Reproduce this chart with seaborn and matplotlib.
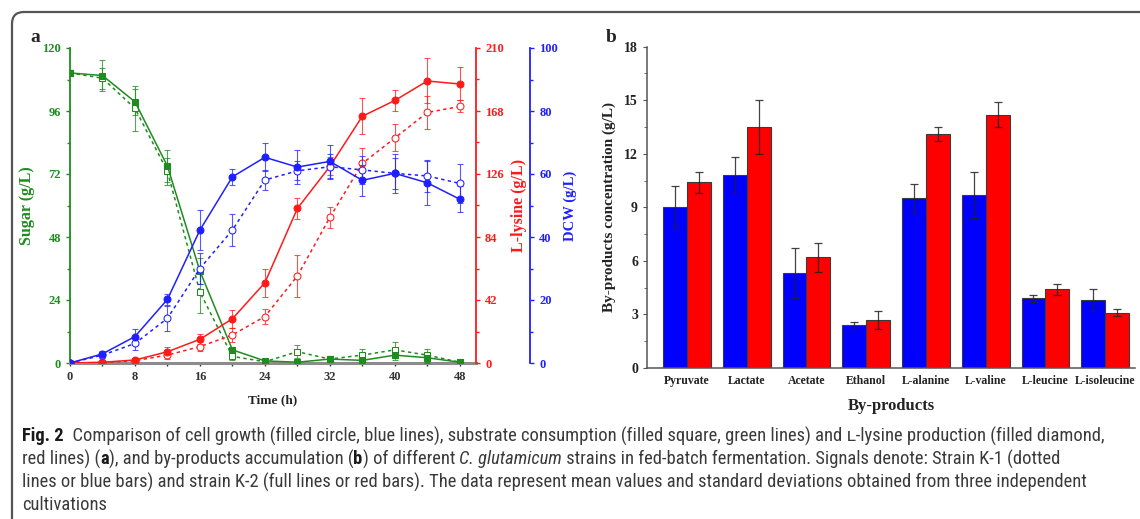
import matplotlib
matplotlib.use("Agg")
import matplotlib.pyplot as plt
import seaborn as sns
import numpy as np
import pandas as pd
from matplotlib.ticker import MultipleLocator, FixedLocator
from matplotlib.patches import FancyBboxPatch
from matplotlib.transforms import IdentityTransform
from matplotlib import font_manager

# ---------------- data: panel a ----------------
time_h = [0, 4, 8, 12, 16, 20, 24, 28, 32, 36, 40, 44, 48]
sugar_k2 = [110.5, 109.5, 99.5, 75.0, 35.0, 5.0, 0.8, 0.3, 1.5, 1.0, 3.0, 2.0, 0.3]
sugar_k1 = [110.5, 108.5, 97.0, 73.0, 27.0, 2.5, 0.5, 4.3, 1.5, 3.0, 5.0, 3.0, 0.3]
sugar_k2_err = [1, 6, 5, 6, 5, 1, 0.5, 0.5, 1, 1.5, 2, 2, 0.5]
sugar_k1_err = [1, 4, 8.5, 5, 8, 1.5, 0.5, 2.5, 1, 2.5, 3, 2.5, 0.5]

lys_k2 = [0, 0.5, 2.0, 7.5, 15.8, 29.5, 53.5, 103, 131, 164.5, 175, 188, 186]
lys_k1 = [0, 0.3, 1.5, 5.3, 10.9, 18.7, 31, 58, 97, 133, 150, 167, 171]
lys_k2_err = [0.3, 0.5, 1.5, 3.3, 3.3, 6, 9.4, 6.7, 6, 12, 7, 15, 11]
lys_k1_err = [0.3, 0.5, 1, 2.5, 3, 4.4, 5, 14, 7, 10, 9, 11, 4]

dcw_k2 = [0, 2.9, 8.4, 20.2, 42.2, 59.1, 65.3, 62.2, 64.0, 58.0, 60.2, 57.2, 52.0]
dcw_k1 = [0, 2.5, 6.2, 14.2, 30.0, 42.2, 58.1, 61.0, 62.3, 61.3, 60.2, 59.4, 57.0]
dcw_k2_err = [0.3, 1, 2.5, 1.8, 6.3, 2.6, 4.4, 5.3, 5.3, 5, 6.3, 6.9, 4.2]
dcw_k1_err = [0.3, 1, 2, 3.9, 4.8, 5, 3.2, 3, 4, 4.5, 5, 5, 6.3]

# ---------------- data: panel b ----------------
byproducts = ["Pyruvate", "Lactate", "Acetate", "Ethanol", "L-alanine",
              "L-valine", "L-leucine", "L-isoleucine"]
strains = ["K-1", "K-2"]
bp_k1 = [9.0, 10.8, 5.3, 2.4, 9.5, 9.7, 3.9, 3.8]
bp_k2 = [10.4, 13.5, 6.2, 2.7, 13.1, 14.2, 4.4, 3.1]
bp_k1_err = [1.2, 1.0, 1.4, 0.2, 0.8, 1.3, 0.2, 0.6]
bp_k2_err = [0.6, 1.5, 0.8, 0.5, 0.4, 0.7, 0.3, 0.2]

# ---------------- style ----------------
sns.set_style("ticks")
plt.rcParams["font.family"] = ["Liberation Serif", "DejaVu Serif"]
plt.rcParams["font.weight"] = "bold"
plt.rcParams["axes.labelweight"] = "bold"

GREEN = "#1e8c1e"
RED = "#ff1a1a"
BLUE = "#2020ff"
BLUE_BAR = "#0000ff"
RED_BAR = "#ff0000"

W, H = 1140, 519
fig = plt.figure(figsize=(W / 100, H / 100), dpi=100)


def fx(px):
    return px / W


def fy(py):
    return 1 - py / H


# ---------------- panel a ----------------
ax1 = fig.add_axes([fx(70), fy(363), fx(476 - 70), (363 - 48) / H])
ax2 = ax1.twinx()
ax3 = ax1.twinx()


def draw_series(ax, t, v, e, color, solid, marker):
    df = pd.DataFrame({"Time": t, "Value": v})
    if solid:
        sns.lineplot(data=df, x="Time", y="Value", ax=ax, color=color,
                     marker=marker, markersize=5, markeredgecolor=color,
                     markerfacecolor=color, linewidth=1.1, legend=False,
                     errorbar=None, zorder=4)
    else:
        sns.lineplot(data=df, x="Time", y="Value", ax=ax, color=color,
                     marker=marker, markersize=5, markeredgecolor=color,
                     markerfacecolor="white", linewidth=1.1, linestyle=(0, (2.2, 2.2)),
                     legend=False, errorbar=None, zorder=4)
    ax.errorbar(t, v, yerr=e, fmt="none", ecolor=color, elinewidth=0.8,
                capsize=2.5, capthick=0.8, alpha=0.75, zorder=3)


draw_series(ax1, time_h, sugar_k1, sugar_k1_err, GREEN, False, "s")
draw_series(ax1, time_h, sugar_k2, sugar_k2_err, GREEN, True, "s")
draw_series(ax2, time_h, lys_k1, lys_k1_err, RED, False, "o")
draw_series(ax2, time_h, lys_k2, lys_k2_err, RED, True, "o")
draw_series(ax3, time_h, dcw_k1, dcw_k1_err, BLUE, False, "o")
draw_series(ax3, time_h, dcw_k2, dcw_k2_err, BLUE, True, "o")

ax1.set_xlim(0, 50)
ax1.set_ylim(0, 120)
ax2.set_ylim(0, 210)
ax3.set_ylim(0, 100)
ax1.xaxis.set_major_locator(FixedLocator([0, 8, 16, 24, 32, 40, 48]))
ax1.xaxis.set_minor_locator(FixedLocator([4, 12, 20, 28, 36, 44]))
ax1.yaxis.set_major_locator(MultipleLocator(24))
ax1.yaxis.set_minor_locator(MultipleLocator(12))
ax2.yaxis.set_major_locator(MultipleLocator(42))
ax2.yaxis.set_minor_locator(MultipleLocator(21))
ax3.yaxis.set_major_locator(MultipleLocator(20))
ax3.yaxis.set_minor_locator(MultipleLocator(10))

for ax in (ax1, ax2, ax3):
    ax.spines["top"].set_visible(False)
    ax.set_xlabel("")
for ax in (ax2, ax3):
    ax.spines["left"].set_visible(False)
    ax.spines["bottom"].set_visible(False)

ax1.spines["right"].set_visible(False)
ax1.spines["left"].set_color(GREEN)
ax1.spines["left"].set_linewidth(1.3)
ax1.spines["bottom"].set_color("#8c8c8c")
ax1.spines["bottom"].set_linewidth(2.2)
ax2.spines["right"].set_color(RED)
ax2.spines["right"].set_linewidth(1.3)
ax3.spines["right"].set_color(BLUE)
ax3.spines["right"].set_linewidth(1.3)
ax3.spines["right"].set_position(("outward", 39))

tick_fs = 9
ax1.tick_params(axis="y", which="both", colors=GREEN, labelsize=tick_fs, length=3, width=1)
ax1.tick_params(axis="y", which="minor", length=2)
ax1.tick_params(axis="x", which="both", colors="#333333", labelsize=tick_fs, length=2.5, width=1)
ax2.tick_params(axis="y", which="both", colors=RED, labelsize=tick_fs, length=3, width=1)
ax2.tick_params(axis="y", which="minor", length=2)
ax3.tick_params(axis="y", which="both", colors=BLUE, labelsize=tick_fs, length=3, width=1)
ax3.tick_params(axis="y", which="minor", length=2)
for ax in (ax1, ax2, ax3):
    for lab in ax.get_yticklabels() + ax.get_xticklabels():
        lab.set_fontweight("bold")

ax1.set_xlabel("Time (h)", fontsize=9.5, fontweight="bold", color="#222222", labelpad=8)
ax1.set_ylabel("Sugar (g/L)", fontsize=11.5, fontweight="bold", color=GREEN, labelpad=5)
ax2.set_ylabel("L-lysine (g/L)", fontsize=11.5, fontweight="bold", color=RED, labelpad=5)
ax3.set_ylabel("DCW (g/L)", fontsize=10.5, fontweight="bold", color=BLUE, labelpad=4)

# ---------------- panel b ----------------
axb = fig.add_axes([fx(647), fy(368), fx(1135 - 647), (368 - 46.7) / H])
bdf = pd.DataFrame({
    "By-products": byproducts * 2,
    "Conc": bp_k1 + bp_k2,
    "Strain": [strains[0]] * len(byproducts) + [strains[1]] * len(byproducts),
})
sns.barplot(data=bdf, x="By-products", y="Conc", hue="Strain", order=byproducts,
            hue_order=strains, palette=[BLUE_BAR, RED_BAR], errorbar=None,
            edgecolor="#3a3a3a", linewidth=0.8, width=0.8, legend=False,
            saturation=1, ax=axb)
for cont, errs in zip(axb.containers, [bp_k1_err, bp_k2_err]):
    xs = [p.get_x() + p.get_width() / 2 for p in cont]
    ys = [p.get_height() for p in cont]
    axb.errorbar(xs, ys, yerr=errs, fmt="none", ecolor="#222222", elinewidth=0.9,
                 capsize=3, capthick=0.9, zorder=5, alpha=0.85)

axb.set_xlim(-0.67, 7.5)
axb.set_ylim(0, 18)
axb.yaxis.set_major_locator(MultipleLocator(3))
axb.yaxis.set_minor_locator(MultipleLocator(1.5))
axb.spines["top"].set_visible(False)
axb.spines["right"].set_visible(False)
for s in ("left", "bottom"):
    axb.spines[s].set_color("#555555")
    axb.spines[s].set_linewidth(1.1)
axb.tick_params(axis="y", which="both", labelsize=10, length=3, color="#555555", labelcolor="#222222")
axb.tick_params(axis="y", which="minor", length=2)
axb.tick_params(axis="x", labelsize=8.5, length=0, pad=5, labelcolor="#222222")
for lab in axb.get_yticklabels() + axb.get_xticklabels():
    lab.set_fontweight("bold")
axb.set_xlabel("By-products", fontsize=12, fontweight="bold", color="#222222", labelpad=8)
axb.set_ylabel("By-products concentration (g/L)", fontsize=11, fontweight="bold",
               color="#222222", labelpad=6)

# panel letters
fig.text(fx(30), fy(38), "a", fontsize=14, fontweight="bold", va="center", ha="left",
         family=["Liberation Serif"])
fig.text(fx(606), fy(38), "b", fontsize=14, fontweight="bold", va="center", ha="left",
         family=["Liberation Serif"])

# frame
frame = FancyBboxPatch((12, -30), 1200, H - 12 + 30,
                       boxstyle="round,pad=0,rounding_size=12",
                       transform=IdentityTransform(), facecolor="none",
                       edgecolor="#555555", linewidth=1.6, zorder=0)
fig.patches.append(frame)

# ---------------- caption ----------------
avail = {f.name for f in font_manager.fontManager.ttflist}
cap_family = None
for cand in ["Liberation Sans Narrow", "DejaVu Sans Condensed", "Roboto Condensed",
             "Open Sans Condensed", "Noto Sans", "Liberation Sans", "DejaVu Sans"]:
    if cand in avail:
        cap_family = cand
        break

L = "\u029f"
cap_lines = [
    [("Fig. 2", "bold", "normal"),
     ("  Comparison of cell growth (filled circle, blue lines), substrate consumption "
      "(filled square, green lines) and " + L + "-lysine production (filled diamond,",
      "normal", "normal")],
    [("red lines) (", "normal", "normal"), ("a", "bold", "normal"),
     ("), and by-products accumulation (", "normal", "normal"), ("b", "bold", "normal"),
     (") of different ", "normal", "normal"), ("C. glutamicum", "normal", "italic"),
     (" strains in fed-batch fermentation. Signals denote: Strain K-1 (dotted",
      "normal", "normal")],
    [("lines or blue bars) and strain K-2 (full lines or red bars). The data represent "
      "mean values and standard deviations obtained from three independent",
      "normal", "normal")],
    [("cultivations", "normal", "normal")],
]
cap_y = [436, 459, 482, 505]
renderer = fig.canvas.get_renderer()


def line_width(segs, fs):
    total = 0
    for txt, wgt, sty in segs:
        t = fig.text(0, 0, txt, fontsize=fs, fontweight=wgt, fontstyle=sty,
                     family=[cap_family, "DejaVu Sans"])
        total += t.get_window_extent(renderer).width
        t.remove()
    return total


base_fs = 10
w1 = line_width(cap_lines[0], base_fs)
cap_fs = base_fs * (1133 - 22) / w1
cap_fs = min(cap_fs, 13.3)
for segs, yy in zip(cap_lines, cap_y):
    x = 22
    for txt, wgt, sty in segs:
        col = "#1a1a1a" if wgt == "bold" else "#3a3a3a"
        t = fig.text(fx(x), fy(yy), txt, fontsize=cap_fs, fontweight=wgt, fontstyle=sty,
                     family=[cap_family, "DejaVu Sans"], va="center", ha="left", color=col)
        x += t.get_window_extent(renderer).width

fig.savefig("out.png", dpi=100)
